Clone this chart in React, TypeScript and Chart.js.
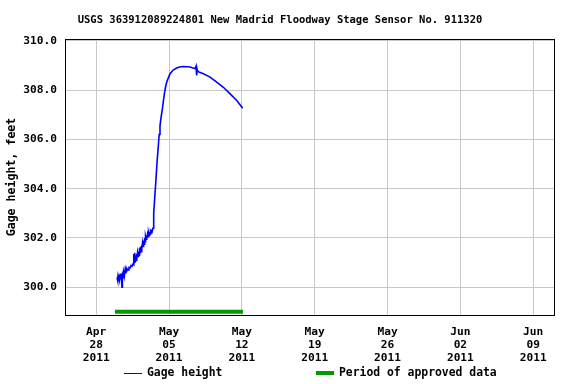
import React, { useEffect, useRef } from "react";
import { Chart, registerables } from "chart.js";

Chart.register(...registerables);

// x values are days since Apr 25, 2011 00:00
const titleText = "USGS 363912089224801 New Madrid Floodway Stage Sensor No. 911320";
const yAxisTitle = "Gage height, feet";
const seriesLabel = "Gage height";
const approvedLabel = "Period of approved data";

const stageDays = [
  5.0, 5.05, 5.1, 5.15, 5.19, 5.24, 5.29, 5.33, 5.38, 5.43, 5.48, 5.5, 5.53, 5.58, 5.62, 5.67, 5.72, 5.77,
  5.82, 5.87, 5.92, 5.96, 6.06, 6.15, 6.25, 6.35, 6.44, 6.54, 6.6, 6.63, 6.66, 6.7, 6.73, 6.78, 6.83, 6.88,
  6.92, 6.97, 7.02, 7.07, 7.12, 7.16, 7.21, 7.26, 7.31, 7.36, 7.4, 7.45, 7.5, 7.55, 7.6, 7.65, 7.69, 7.74,
  7.79, 7.84, 7.88, 7.93, 7.98, 8.03, 8.08, 8.13, 8.17, 8.22, 8.27, 8.32, 8.37, 8.46, 8.5, 8.55, 8.65, 8.75,
  8.85, 8.97, 9.05, 9.13, 9.25, 9.36, 9.45, 9.55, 9.65, 9.78, 9.95, 10.1, 10.4, 10.74, 11.0, 11.38, 11.7,
  12.02, 12.3, 12.5, 12.6, 12.65, 12.7, 12.8, 13.3, 13.94, 14.58, 15.22, 15.87, 16.51, 17.08,
];
const stageFeet = [
  300.4, 300.3, 300.48, 300.35, 300.5, 300.32, 300.45, 300.38, 300.55, 300.25, 300.0, 300.6, 300.35, 300.55,
  300.45, 300.62, 300.5, 300.68, 300.55, 300.72, 300.6, 300.75, 300.7, 300.8, 300.78, 300.88, 300.85, 300.95,
  300.92, 301.35, 301.0, 301.4, 301.05, 301.3, 301.1, 301.35, 301.15, 301.4, 301.25, 301.45, 301.3, 301.6,
  301.4, 301.65, 301.45, 301.7, 301.55, 301.8, 301.65, 301.9, 301.75, 302.0, 301.85, 302.05, 301.95, 302.1,
  302.0, 302.15, 302.05, 302.2, 302.1, 302.25, 302.15, 302.25, 302.2, 302.28, 302.25, 302.4, 302.8, 303.0,
  303.8, 304.4, 305.1, 305.74, 306.2, 306.55, 306.95, 307.24, 307.55, 307.85, 308.1, 308.33, 308.52, 308.67,
  308.82, 308.9, 308.94, 308.96, 308.95, 308.94, 308.9, 308.88, 308.98, 308.6, 308.85, 308.75, 308.67, 308.53,
  308.33, 308.12, 307.85, 307.58, 307.27,
];

const approvedDays = [4.8, 17.1];
const approvedLevel = [299.0, 299.0];

const xTickDays = [3, 10, 17, 24, 31, 38, 45];
const xTickMonths = ["Apr", "May", "May", "May", "May", "Jun", "Jun"];
const xTickDates = ["28", "05", "12", "19", "26", "02", "09"];
const xTickYears = ["2011", "2011", "2011", "2011", "2011", "2011", "2011"];
const yTicks = [300, 302, 304, 306, 308, 310];

const FONT = "'DejaVu Sans Mono', monospace";

const decorPlugin = {
  id: "decor",
  afterDraw(chart: any) {
    const ctx = chart.ctx;
    const a = chart.chartArea;
    ctx.save();
    ctx.strokeStyle = "#000";
    ctx.lineWidth = 1;
    ctx.strokeRect(Math.round(a.left) + 0.5, Math.round(a.top) + 0.5, Math.round(a.right - a.left), Math.round(a.bottom - a.top));
    ctx.fillStyle = "#000";
    ctx.font = `bold 10.5px ${FONT}`;
    ctx.textAlign = "center";
    ctx.textBaseline = "middle";
    ctx.fillText(titleText, 280, 20);
    // legend
    ctx.font = `bold 11.4px ${FONT}`;
    ctx.textAlign = "left";
    ctx.strokeStyle = "#0000ff";
    ctx.lineWidth = 1;
    ctx.beginPath();
    ctx.moveTo(124, 373.5);
    ctx.lineTo(142, 373.5);
    ctx.stroke();
    ctx.fillText(seriesLabel, 147, 373);
    ctx.strokeStyle = "#009900";
    ctx.lineWidth = 4;
    ctx.beginPath();
    ctx.moveTo(316, 373);
    ctx.lineTo(334, 373);
    ctx.stroke();
    ctx.fillText(approvedLabel, 339, 373);
    ctx.restore();
  },
};

export default function App() {
  const ref = useRef<HTMLCanvasElement>(null);
  useEffect(() => {
    const chart = new Chart(ref.current as HTMLCanvasElement, {
      type: "line",
      data: {
        datasets: [
          {
            label: seriesLabel,
            data: stageDays.map((d, i) => ({ x: d, y: stageFeet[i] })),
            borderColor: "#0000ff",
            borderWidth: 1.6,
            pointRadius: 0,
            tension: 0,
          },
          {
            label: approvedLabel,
            data: approvedDays.map((d, i) => ({ x: d, y: approvedLevel[i] })),
            borderColor: "#009900",
            borderWidth: 4,
            borderCapStyle: "butt",
            pointRadius: 0,
          },
        ],
      },
      options: {
        animation: false,
        responsive: false,
        layout: { padding: { top: 39, right: 22, left: 0, bottom: 0 } },
        plugins: { legend: { display: false }, title: { display: false }, tooltip: { enabled: false } },
        scales: {
          x: {
            type: "linear",
            min: 0,
            max: 47,
            afterBuildTicks: (s: any) => {
              s.ticks = xTickDays.map((v) => ({ value: v }));
            },
            afterFit: (s: any) => {
              s.height = 69;
            },
            ticks: {
              autoSkip: false,
              maxRotation: 0,
              padding: 11,
              color: "#000",
              font: { family: FONT, size: 11.2, weight: "bold", lineHeight: 1.13 },
              callback: (v: any) => {
                const i = xTickDays.indexOf(v);
                return i >= 0 ? [xTickMonths[i], xTickDates[i], xTickYears[i]] : "";
              },
            },
            grid: { color: "#c8c8c8", drawTicks: false },
            border: { color: "#000" },
          },
          y: {
            type: "linear",
            min: 298.87,
            max: 310.08,
            afterBuildTicks: (s: any) => {
              s.ticks = yTicks.map((v) => ({ value: v }));
            },
            afterFit: (s: any) => {
              s.width = 65;
            },
            ticks: {
              padding: 8,
              color: "#000",
              font: { family: FONT, size: 11.2, weight: "bold" },
              callback: (v: any) => Number(v).toFixed(1),
            },
            grid: { color: "#c8c8c8", drawTicks: false },
            border: { color: "#000" },
            title: {
              display: true,
              text: yAxisTitle,
              color: "#000",
              font: { family: FONT, size: 11.6, weight: "bold" },
              padding: { top: 5, bottom: 0 },
            },
          },
        },
      },
      plugins: [decorPlugin],
    } as any);
    return () => chart.destroy();
  }, []);
  return (
    <div style={{ position: "fixed", left: 0, top: 0, width: 576, height: 384, background: "#fff" }}>
      <canvas ref={ref} width={576} height={384} />
    </div>
  );
}
